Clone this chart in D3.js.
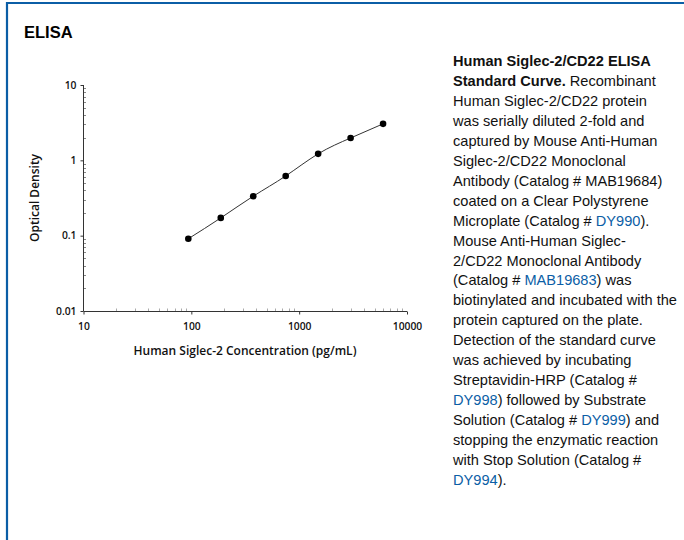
<!DOCTYPE html>
<html>
<head>
<meta charset="utf-8">
<script src="https://cdn.jsdelivr.net/npm/d3@7"></script>
<style>
  body { margin: 0; background: #fff; }
  svg { display: block; }
</style>
</head>
<body>
<script>
// standard curve
const conc = [93.75, 187.5, 375, 750, 1500, 3000, 6000]
const od = [0.091, 0.172, 0.334, 0.62, 1.22, 1.98, 3.05]
const xTicks = [10, 100, 1000, 10000]
const yTicks = [0.01, 0.1, 1, 10]

// caption lines; segments marked link are drawn in blue
const caption = [
  [{ t: 'Human Siglec-2/CD22 ELISA', b: true }],
  [{ t: 'Standard Curve.', b: true }, { t: ' Recombinant' }],
  [{ t: 'Human Siglec-2/CD22 protein' }],
  [{ t: 'was serially diluted 2-fold and' }],
  [{ t: 'captured by Mouse Anti-Human' }],
  [{ t: 'Siglec-2/CD22 Monoclonal' }],
  [{ t: 'Antibody (Catalog # MAB19684)' }],
  [{ t: 'coated on a Clear Polystyrene' }],
  [{ t: 'Microplate (Catalog # ' }, { t: 'DY990', link: true }, { t: ').' }],
  [{ t: 'Mouse Anti-Human Siglec-' }],
  [{ t: '2/CD22 Monoclonal Antibody' }],
  [{ t: '(Catalog # ' }, { t: 'MAB19683', link: true }, { t: ') was' }],
  [{ t: 'biotinylated and incubated with the' }],
  [{ t: 'protein captured on the plate.' }],
  [{ t: 'Detection of the standard curve' }],
  [{ t: 'was achieved by incubating' }],
  [{ t: 'Streptavidin-HRP (Catalog #' }],
  [{ t: 'DY998', link: true }, { t: ') followed by Substrate' }],
  [{ t: 'Solution (Catalog # ' }, { t: 'DY999', link: true }, { t: ') and' }],
  [{ t: 'stopping the enzymatic reaction' }],
  [{ t: 'with Stop Solution (Catalog #' }],
  [{ t: 'DY994', link: true }, { t: ').' }]
]

const blue = '#0b5ea6'
const axisFont = '"Open Sans", sans-serif'

let svg = d3.select('body').append('svg')
  .attr('width', 684)
  .attr('height', 540)

// frame
svg.append('path')
  .attr('d', 'M7,540 V3 H684')
  .attr('fill', 'none')
  .attr('stroke', blue)
  .attr('stroke-width', 2.2)

svg.append('text')
  .attr('x', 24)
  .attr('y', 38)
  .attr('font-family', 'Liberation Sans, Arial, sans-serif')
  .attr('font-weight', 'bold')
  .attr('font-size', 16.5)
  .text('ELISA')

let x = d3.scaleLog()
  .domain([10, 10000])
  .range([83.5, 407])

let y = d3.scaleLog()
  .domain([0.01, 10])
  .range([311, 85])

let minorX = d3.range(1, 4).flatMap((e) => d3.range(2, 10).map((m) => m * Math.pow(10, e)))
let minorY = d3.range(-2, 1).flatMap((e) => d3.range(2, 10).map((m) => m * Math.pow(10, e)))

let g = svg.append('g')

// minor ticks, inside the plot
g.selectAll('.mx')
    .data(minorX)
  .enter().append('line')
    .attr('x1', (d) => Math.round(x(d)) + 0.5)
    .attr('x2', (d) => Math.round(x(d)) + 0.5)
    .attr('y1', 311)
    .attr('y2', 308.5)
    .attr('stroke', '#aaa')

g.selectAll('.my')
    .data(minorY)
  .enter().append('line')
    .attr('y1', (d) => Math.round(y(d)) + 0.5)
    .attr('y2', (d) => Math.round(y(d)) + 0.5)
    .attr('x1', 83.5)
    .attr('x2', 86)
    .attr('stroke', '#888')

let xAxis = g.append('g')
  .attr('transform', 'translate(0,311.5)')
  .call(d3.axisBottom(x)
    .tickValues(xTicks)
    .tickSize(3)
    .tickPadding(8)
    .tickFormat(d3.format('d')))

let yAxis = g.append('g')
  .attr('transform', 'translate(83.5,0)')
  .call(d3.axisLeft(y)
    .tickValues(yTicks)
    .tickSize(3)
    .tickPadding(4)
    .tickFormat((d) => String(d)))

for (let a of [xAxis, yAxis]) {
  a.select('.domain').attr('stroke', '#333')
  a.selectAll('.tick line').attr('stroke', '#333')
  a.selectAll('.tick text')
    .attr('fill', '#111')
    .attr('font-family', axisFont)
    .attr('font-weight', 600)
    .attr('font-size', 10.3)
}
xAxis.selectAll('.domain').attr('d', 'M83.5,0H407')
yAxis.selectAll('.domain').attr('d', 'M0,85V311')

svg.append('text')
  .attr('x', 245)
  .attr('y', 355)
  .attr('text-anchor', 'middle')
  .attr('font-family', axisFont)
  .attr('font-weight', 600)
  .attr('font-size', 12)
  .attr('fill', '#111')
  .text('Human Siglec-2 Concentration (pg/mL)')

svg.append('text')
  .attr('transform', 'translate(39,198) rotate(-90)')
  .attr('text-anchor', 'middle')
  .attr('font-family', axisFont)
  .attr('font-weight', 600)
  .attr('font-size', 12)
  .attr('fill', '#111')
  .text('Optical Density')

let points = conc.map((c, i) => ({ c: c, v: od[i] }))

let curve = d3.line()
  .x((d) => x(d.c))
  .y((d) => y(d.v))
  .curve(d3.curveNatural)

svg.append('path')
  .attr('fill', 'none')
  .attr('stroke', '#333')
  .attr('stroke-width', 1)
  .attr('d', curve(points))

svg.selectAll('.pt')
    .data(points)
  .enter().append('circle')
    .attr('cx', (d) => x(d.c))
    .attr('cy', (d) => y(d.v))
    .attr('r', 3.3)
    .attr('fill', '#000')

// caption
let cap = svg.append('text')
  .attr('font-family', 'Liberation Sans, Arial, sans-serif')
  .attr('font-size', 14.6)
  .attr('fill', '#111')

caption.forEach((line, i) => {
  let row = cap.append('tspan')
    .attr('x', 453)
    .attr('y', 66 + i * 19.95)
  line.forEach((s) => {
    row.append('tspan')
      .attr('font-weight', s.b ? 'bold' : null)
      .attr('fill', s.link ? blue : null)
      .text(s.t)
  })
})
</script>
</body>
</html>
